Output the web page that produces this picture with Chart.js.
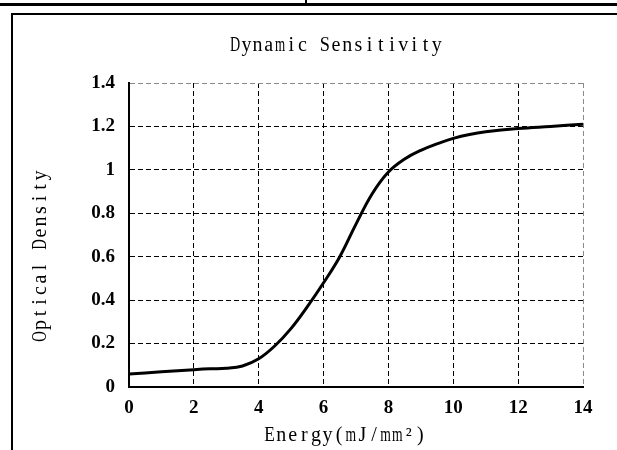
<!DOCTYPE html>
<html>
<head>
<meta charset="utf-8">
<script src="https://cdn.jsdelivr.net/npm/chart.js@4.4.0/dist/chart.umd.min.js"></script>
<style>
  body { margin: 0; background: #fff; }
  #wrap { position: relative; width: 617px; height: 450px; overflow: hidden; }
  .rule-top { position: absolute; left: 0; top: 3px; width: 617px; height: 3px; background: #000; }
  .rule-tick { position: absolute; left: 305px; top: 0; width: 2px; height: 4px; background: #000; }
  .frame { position: absolute; left: 11px; top: 13px; right: 0; bottom: 0;
           border-left: 2px solid #000; border-top: 2px solid #000; }
  canvas { position: absolute; left: 0; top: 0; }
</style>
</head>
<body>
<div id="wrap">
  <div class="rule-top"></div>
  <div class="rule-tick"></div>
  <div class="frame"></div>
  <canvas id="chart" width="617" height="450"></canvas>
</div>
<script>
// valeurs
const energy = [0, 1, 2, 2.5, 3, 3.5, 4, 4.5, 5, 5.5, 6, 6.5, 7, 7.5, 8, 8.5, 9, 9.5, 10, 10.5, 11, 12, 13, 14];
const density = [0.06, 0.07, 0.08, 0.084, 0.086, 0.097, 0.13, 0.19, 0.27, 0.37, 0.48, 0.6, 0.75, 0.89, 0.99, 1.05, 1.09, 1.12, 1.145, 1.163, 1.175, 1.19, 1.2, 1.21];

const xTicks = ['0', '2', '4', '6', '8', '10', '12', '14'];
const yTicks = ['0', '0.2', '0.4', '0.6', '0.8', '1', '1.2', '1.4'];

const chartTitle = 'Dynamic Sensitivity';
const xTitle = 'Energy(mJ/mm²)';
const yTitle = 'Optical Density';

const tickFont = { family: 'Liberation Serif', size: 19, weight: 'bold' };
const labelFont = '20px "Liberation Serif"';

// texte à chasse fixe (police d'origine type SimSun), glyphes larges resserrés
function drawMono(ctx, text, cx, cy, adv) {
  const chars = [...text];
  let x = cx - (chars.length * adv) / 2 + adv / 2;
  chars.forEach(ch => {
    const w = ctx.measureText(ch).width;
    const room = adv - 1;
    if (w > room) {
      ctx.save();
      ctx.translate(x, cy);
      ctx.scale(room / w, 1);
      ctx.fillText(ch, 0, 0);
      ctx.restore();
    } else {
      ctx.fillText(ch, x, cy);
    }
    x += adv;
  });
}

// titres placés à la main, comme dans l'original (décalés du centre)
const titlesPlugin = {
  id: 'titles',
  afterDraw(chart) {
    const { ctx, chartArea: a } = chart;
    ctx.save();
    ctx.fillStyle = '#000';
    ctx.font = labelFont;
    ctx.textAlign = 'center';
    ctx.textBaseline = 'middle';
    drawMono(ctx, chartTitle, a.left + 207, 46, 11.2);
    drawMono(ctx, xTitle, a.left + 216, 436, 11.6);
    ctx.translate(41, 256);
    ctx.rotate(-Math.PI / 2);
    drawMono(ctx, yTitle, 0, 0, 11.5);
    ctx.restore();
  }
};

function gridColor(c, max) {
  return c.tick && c.tick.value === max ? '#8a8a8a' : '#000';
}

const ctx = document.getElementById('chart').getContext('2d');
new Chart(ctx, {
  type: 'scatter',
  data: {
    datasets: [{
      data: energy.map((x, i) => ({ x, y: density[i] })),
      showLine: true,
      borderColor: '#000',
      borderWidth: 3,
      pointRadius: 0,
      tension: 0.4,
      fill: false,
    }]
  },
  plugins: [titlesPlugin],
  options: {
    responsive: false,
    animation: false,
    layout: { padding: { left: 0, top: 83, right: 34, bottom: 0 } },
    plugins: {
      legend: { display: false },
      tooltip: { enabled: false },
    },
    scales: {
      x: {
        type: 'linear',
        min: 0,
        max: 14,
        afterFit: s => { s.height = 63; },
        ticks: {
          stepSize: 2,
          color: '#000',
          font: tickFont,
          padding: 10,
          maxRotation: 0,
          callback: (v, i) => xTicks[i],
        },
        grid: {
          color: c => gridColor(c, 14),
          lineWidth: 1,
          drawTicks: false,
        },
        border: { display: true, color: '#000', width: 2, dash: [5, 3] },
      },
      y: {
        min: 0,
        max: 1.4,
        afterFit: s => { s.width = 129; },
        ticks: {
          stepSize: 0.2,
          color: '#000',
          font: tickFont,
          padding: 14,
          callback: (v, i) => yTicks[i],
        },
        grid: {
          color: c => gridColor(c, 1.4),
          lineWidth: 1,
          drawTicks: false,
        },
        border: { display: true, color: '#000', width: 2, dash: [5, 3] },
      },
    },
  },
});
</script>
</body>
</html>
